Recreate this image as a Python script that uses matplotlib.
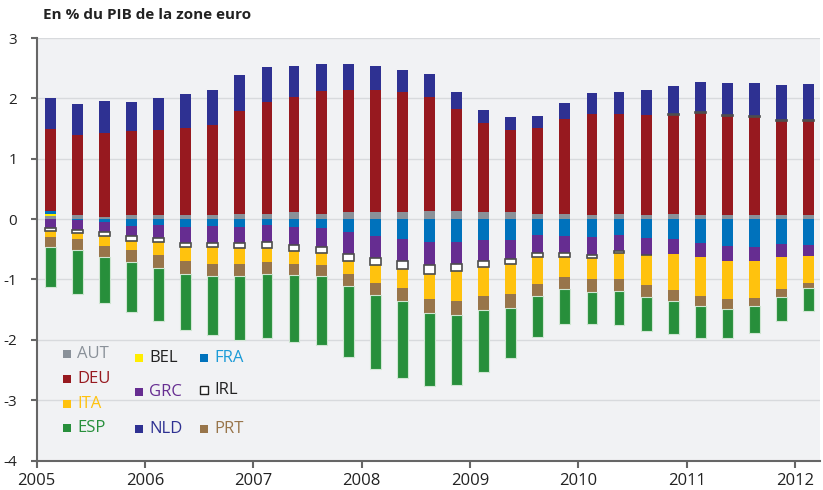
import numpy as np
import matplotlib.pyplot as plt

plt.rcParams['font.family'] = ['Open Sans', 'DejaVu Sans']
plt.rcParams['axes.unicode_minus'] = False

# trimestres 2005T1 .. 2012T1
annees = [2005]*4 + [2006]*4 + [2007]*4 + [2008]*4 + [2009]*4 + [2010]*4 + [2011]*4 + [2012]
trim = [1, 2, 3, 4]*7 + [1]

pays = ["AUT", "BEL", "FRA", "DEU", "GRC", "IRL", "ITA", "NLD", "PRT", "ESP"]

AUT = [0.05, 0.06, 0.04, 0.06, 0.06, 0.06, 0.06, 0.09, 0.09, 0.11, 0.09, 0.11, 0.12, 0.12, 0.14,
       0.14, 0.12, 0.11, 0.09, 0.09, 0.07, 0.09, 0.07, 0.09, 0.07, 0.07, 0.07, 0.06, 0.06]
BEL = [0.04] + [0.0]*28
FRA = [0.045, -0.02, -0.04, -0.11, -0.09, -0.13, -0.12, -0.13, -0.09, -0.13, -0.14, -0.21, -0.28, -0.33, -0.38,
       -0.38, -0.34, -0.34, -0.26, -0.28, -0.29, -0.26, -0.31, -0.33, -0.39, -0.44, -0.46, -0.41, -0.43]
DEU = [1.35, 1.33, 1.38, 1.40, 1.42, 1.455, 1.50, 1.70, 1.855, 1.91, 2.03, 2.03, 2.02, 1.99, 1.88,
       1.68, 1.47, 1.37, 1.42, 1.57, 1.67, 1.65, 1.65, 1.64, 1.69, 1.64, 1.62, 1.56, 1.56]
GRC = [-0.15, -0.156, -0.167, -0.178, -0.217, -0.261, -0.272, -0.272, -0.294, -0.305, -0.328, -0.367, -0.366, -0.366, -0.383,
       -0.366, -0.35, -0.317, -0.305, -0.289, -0.312, -0.267, -0.278, -0.25, -0.234, -0.25, -0.233, -0.217, -0.183]
IRL = [-0.044, -0.05, -0.067, -0.072, -0.078, -0.067, -0.078, -0.078, -0.095, -0.095, -0.095, -0.111, -0.114, -0.128, -0.145,
       -0.114, -0.103, -0.086, -0.059, -0.061, -0.038, -0.028, -0.011, 0.012, 0.015, 0.015, 0.015, 0.015, 0.015]
ITA = [-0.10, -0.10, -0.166, -0.15, -0.205, -0.238, -0.266, -0.266, -0.233, -0.216, -0.194, -0.222, -0.302, -0.322, -0.422,
       -0.503, -0.481, -0.497, -0.458, -0.333, -0.35, -0.438, -0.494, -0.60, -0.65, -0.634, -0.617, -0.533, -0.45]
NLD = [0.517, 0.517, 0.534, 0.483, 0.528, 0.561, 0.583, 0.60, 0.576, 0.52, 0.45, 0.43, 0.40, 0.36, 0.39,
       0.29, 0.22, 0.21, 0.20, 0.26, 0.35, 0.37, 0.42, 0.47, 0.49, 0.53, 0.55, 0.58, 0.61]
PRT = [-0.167, -0.194, -0.184, -0.20, -0.217, -0.217, -0.20, -0.20, -0.20, -0.184, -0.183, -0.20, -0.196, -0.217, -0.233,
       -0.233, -0.233, -0.234, -0.20, -0.20, -0.217, -0.20, -0.20, -0.183, -0.166, -0.166, -0.133, -0.133, -0.083]
ESP = [-0.667, -0.717, -0.766, -0.833, -0.883, -0.917, -0.984, -1.05, -1.06, -1.10, -1.146, -1.18, -1.234, -1.27, -1.21,
       -1.146, -1.03, -0.83, -0.678, -0.583, -0.533, -0.567, -0.562, -0.533, -0.534, -0.484, -0.45, -0.40, -0.384]

series = [AUT, BEL, FRA, DEU, GRC, IRL, ITA, NLD, PRT, ESP]
couleurs = ["#8A9199", "#FFED00", "#0072BC", "#97191F", "#662D91", "#FFFFFF",
            "#FFC20E", "#2E3192", "#98754A", "#278F3B"]
couleurs_texte = ["#8A9199", "#222222", "#1B9BD7", "#97191F", "#662D91", "#222222",
                  "#FFC20E", "#2E3192", "#98754A", "#278F3B"]

x = np.array(annees) + (np.array(trim) - 0.5) / 4

fig = plt.figure(figsize=(8.23, 4.9), dpi=100)
ax = fig.add_axes([0.0446, 0.0602, 0.9518, 0.8622])
ax.set_facecolor("#F1F2F4")

bas_pos = np.zeros(len(x))
bas_neg = np.zeros(len(x))
for nom, vals, c in zip(pays, series, couleurs):
    v = np.array(vals)
    bottom = np.where(v >= 0, bas_pos, bas_neg)
    if nom == "IRL":
        ax.bar(x, v, width=0.1, bottom=bottom, color=c, edgecolor="#4D4D4D", linewidth=1.2, zorder=3)
    elif nom == "ESP":
        ax.bar(x, v, width=0.1, bottom=bottom, color=c, edgecolor="#CFE6D2", linewidth=0.8, zorder=2)
    else:
        ax.bar(x, v, width=0.1, bottom=bottom, color=c, linewidth=0, zorder=2)
    bas_pos = bas_pos + np.where(v >= 0, v, 0)
    bas_neg = bas_neg + np.where(v < 0, v, 0)

ax.set_xlim(2005, 2012.23)
ax.set_ylim(-4, 3)
ax.set_yticks(range(-4, 4))
ax.set_xticks(range(2005, 2013))
ax.grid(axis="y", color="#D8DADD", linewidth=1, zorder=0)
ax.set_axisbelow(True)

for s in ["top", "right"]:
    ax.spines[s].set_visible(False)
for s in ["left", "bottom"]:
    ax.spines[s].set_color("#666666")
    ax.spines[s].set_linewidth(1.5)
ax.tick_params(axis="y", length=4, width=1.5, color="#666666", labelsize=11, pad=10, labelcolor="#222222")
ax.tick_params(axis="x", length=5, width=1.5, color="#666666", labelsize=12, pad=4, labelcolor="#222222")

# légende placée à la main
leg = {
    "AUT": (0.0387, 0.2514), "BEL": (0.1306, 0.2419), "FRA": (0.2136, 0.2419),
    "DEU": (0.0387, 0.1929), "GRC": (0.1306, 0.1614), "IRL": (0.2136, 0.1661),
    "ITA": (0.0387, 0.1337), "ESP": (0.0387, 0.0776), "NLD": (0.1306, 0.0738),
    "PRT": (0.2136, 0.0738),
}
for nom, c, ct in zip(pays, couleurs, couleurs_texte):
    lx, ly = leg[nom]
    ax.plot([lx], [ly], marker="s", ms=6, color=c, mec="#222222" if nom == "IRL" else c,
            mew=1 if nom == "IRL" else 0, transform=ax.transAxes, zorder=5, clip_on=False)
    ax.text(lx + 0.013, ly, nom, color=ct, fontsize=12, va="center", ha="left", transform=ax.transAxes)

fig.text(0.052, 0.969, "En % du PIB de la zone euro", fontsize=11, fontweight="bold",
         color="#222222", va="center", ha="left")

fig.savefig("out.png", dpi=100)
